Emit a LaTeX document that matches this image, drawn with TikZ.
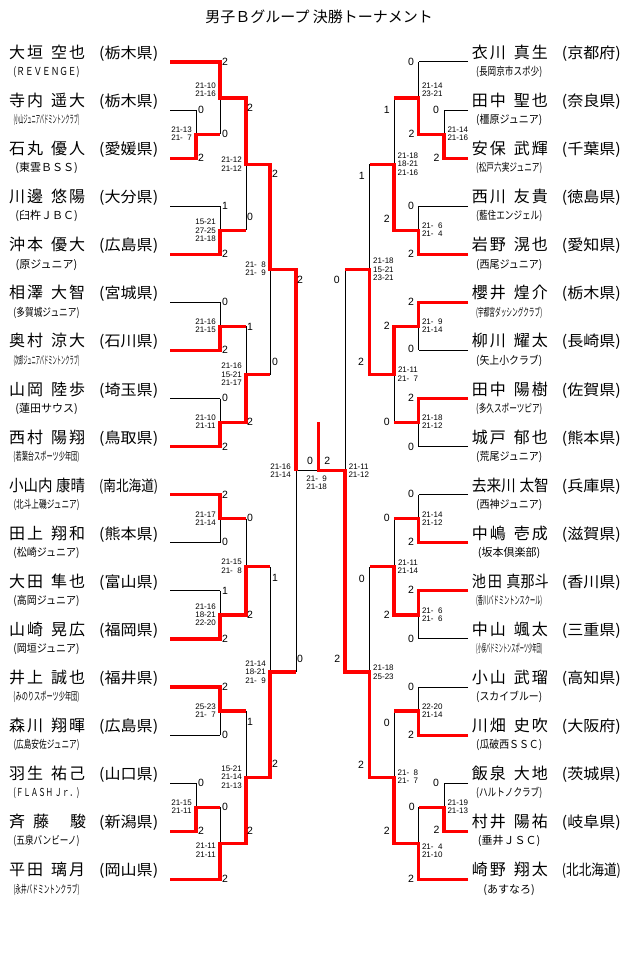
\documentclass[tikz,border=0pt]{standalone}
\usepackage{fontspec}
\usepackage{graphicx}
\newfontfamily\jp{Noto Sans CJK JP}
\newfontfamily\numfont{Liberation Sans}
\newsavebox\clubbox
\newcommand\clubfit[1]{\sbox\clubbox{#1}\ifdim\wd\clubbox>66pt\relax\resizebox{66pt}{\height}{\usebox\clubbox}\else\usebox\clubbox\fi}
\newcommand\preffit[1]{\resizebox{59pt}{\height}{(#1)}}
\newcommand\twoch[2]{#1\hspace{2pt}#2}
\newcommand\zs{\hphantom{0}}
\newcounter{dgc}
\newcounter{scc}
\def\YA{62}\def\YB{110.08}\def\YC{158.16}\def\YD{206.24}\def\YE{254.32}\def\YF{302.40}
\def\YG{350.48}\def\YH{398.56}\def\YI{446.64}\def\YJ{494.72}\def\YK{542.80}\def\YL{590.88}
\def\YM{638.96}\def\YN{687.04}\def\YO{735.12}\def\YP{783.20}\def\YQ{831.28}\def\YR{879.36}
\def\MA{134.12}\def\MB{98.06}\def\MC{230.28}\def\MD{164.17}\def\ME{326.44}\def\MF{422.60}
\def\MG{374.52}\def\MH{269.345}\def\MI{518.76}\def\MJ{614.92}\def\MK{566.84}\def\ML{711.08}
\def\MM{807.24}\def\MN{843.30}\def\MO{777.19}\def\MP{672.015}\def\MS{470.68}
\def\XLa{170}\def\XLb{196}\def\XLc{220}\def\XLd{246}\def\XLe{270}\def\XLf{296}
\def\XRa{468}\def\XRb{444}\def\XRc{418.5}\def\XRd{394}\def\XRe{369.5}\def\XRf{345}
\def\XC{318.5}
\newcommand\blackside[6]{%
\draw[bk]
 (#1,\YA)--(#3,\YA)
 (#1,\YB)--(#2,\YB) (#1,\YC)--(#2,\YC)
 (#1,\YD)--(#3,\YD) (#1,\YE)--(#3,\YE) (#1,\YF)--(#3,\YF) (#1,\YG)--(#3,\YG)
 (#1,\YH)--(#3,\YH) (#1,\YI)--(#3,\YI) (#1,\YJ)--(#3,\YJ) (#1,\YK)--(#3,\YK)
 (#1,\YL)--(#3,\YL) (#1,\YM)--(#3,\YM) (#1,\YN)--(#3,\YN) (#1,\YO)--(#3,\YO)
 (#1,\YP)--(#2,\YP) (#1,\YQ)--(#2,\YQ) (#1,\YR)--(#3,\YR)
 (#2,\YB)--(#2,\YC) (#2,\YP)--(#2,\YQ)
 (#2,\MA)--(#3,\MA) (#2,\MM)--(#3,\MM)
 (#3,\YA)--(#3,\MA) (#3,\YD)--(#3,\YE) (#3,\YF)--(#3,\YG) (#3,\YH)--(#3,\YI)
 (#3,\YJ)--(#3,\YK) (#3,\YL)--(#3,\YM) (#3,\YN)--(#3,\YO) (#3,\MM)--(#3,\YR)
 (#3,\MB)--(#4,\MB) (#3,\MC)--(#4,\MC) (#3,\ME)--(#4,\ME) (#3,\MF)--(#4,\MF)
 (#3,\MI)--(#4,\MI) (#3,\MJ)--(#4,\MJ) (#3,\ML)--(#4,\ML) (#3,\MN)--(#4,\MN)
 (#4,\MB)--(#4,\MC) (#4,\ME)--(#4,\MF) (#4,\MI)--(#4,\MJ) (#4,\ML)--(#4,\MN)
 (#4,\MD)--(#5,\MD) (#4,\MG)--(#5,\MG) (#4,\MK)--(#5,\MK) (#4,\MO)--(#5,\MO)
 (#5,\MD)--(#5,\MG) (#5,\MK)--(#5,\MO)
 (#5,\MH)--(#6,\MH) (#5,\MP)--(#6,\MP)
 (#6,\MH)--(#6,\MP);}
\newcommand\player[7]{%
 \node[nm] (#1s) at (#2,#3-3.5) {#4};
 \node[nm] (#1g) at (#2+42,#3-3.5) {#5};
 \node[pf] (#1p) at (#2+90,#3-3.5) {\preffit{#6}};
 \node[cl] (#1c) at (#2+37.5,#3+13.7) {\clubfit{#7}};}
\newcommand\dg[3]{\stepcounter{dgc}\node[dgt] (dg\the\value{dgc}) at (#1,#2+3.8) {#3};}
\newcommand\sct[4]{\stepcounter{scc}\node[sm,anchor=#1] (sc\the\value{scc}) at (#2,#3) {#4};}
\begin{document}
\begin{tikzpicture}[x=1pt,y=-1pt,
 bk/.style={draw=black,line width=1pt},
 rd/.style={draw=red,line width=3.2pt,line join=miter,line cap=butt},
 nm/.style={anchor=base west,inner sep=0pt,font=\jp\fontsize{16}{18}\selectfont},
 pf/.style={anchor=base west,inner sep=0pt,font=\jp\fontsize{15}{18}\selectfont},
 cl/.style={anchor=base,inner sep=0pt,font=\jp\fontsize{11}{13}\selectfont},
 dgt/.style={anchor=base,inner sep=0pt,font=\numfont\fontsize{10.5}{12}\selectfont},
 sm/.style={inner sep=0pt,align=center,font=\numfont\fontsize{8}{8.3}\selectfont},
 ttl/.style={anchor=base,inner sep=0pt,font=\jp\fontsize{15}{18}\selectfont}]
\useasboundingbox (0,0) rectangle (640,957);
\fill[white] (0,0) rectangle (640,957);
\node[ttl] (title) at (319.2,22.4) {男子Ｂグループ 決勝トーナメント};
% black structure
\blackside{\XLa}{\XLb}{\XLc}{\XLd}{\XLe}{\XLf}
\blackside{\XRa}{\XRb}{\XRc}{\XRd}{\XRe}{\XRf}
\draw[bk] (\XLf,\MS)--(\XRf,\MS);
% red winners left
\draw[rd] (\XLa,\YA)--(\XLc,\YA)--(\XLc,\MB)--(\XLd,\MB)--(\XLd,\MD)--(\XLe,\MD)--(\XLe,\MH)--(\XLf,\MH)--(\XLf,\MS);
\draw[rd] (\XLa,\YC)--(\XLb,\YC)--(\XLb,\MA)--(\XLc,\MA);
\draw[rd] (\XLa,\YE)--(\XLc,\YE)--(\XLc,\MC)--(\XLd,\MC);
\draw[rd] (\XLa,\YG)--(\XLc,\YG)--(\XLc,\ME)--(\XLd,\ME);
\draw[rd] (\XLa,\YI)--(\XLc,\YI)--(\XLc,\MF)--(\XLd,\MF)--(\XLd,\MG)--(\XLe,\MG);
\draw[rd] (\XLa,\YJ)--(\XLc,\YJ)--(\XLc,\MI)--(\XLd,\MI);
\draw[rd] (\XLa,\YM)--(\XLc,\YM)--(\XLc,\MJ)--(\XLd,\MJ)--(\XLd,\MK)--(\XLe,\MK);
\draw[rd] (\XLa,\YN)--(\XLc,\YN)--(\XLc,\ML)--(\XLd,\ML);
\draw[rd] (\XLa,\YQ)--(\XLb,\YQ)--(\XLb,\MM)--(\XLc,\MM);
\draw[rd] (\XLa,\YR)--(\XLc,\YR)--(\XLc,\MN)--(\XLd,\MN)--(\XLd,\MO)--(\XLe,\MO)--(\XLe,\MP)--(\XLf,\MP);
% red winners right
\draw[rd] (\XRa,\YC)--(\XRb,\YC)--(\XRb,\MA)--(\XRc,\MA)--(\XRc,\MB)--(\XRd,\MB);
\draw[rd] (\XRa,\YE)--(\XRc,\YE)--(\XRc,\MC)--(\XRd,\MC)--(\XRd,\MD)--(\XRe,\MD);
\draw[rd] (\XRa,\YF)--(\XRc,\YF)--(\XRc,\ME)--(\XRd,\ME)--(\XRd,\MG)--(\XRe,\MG)--(\XRe,\MH)--(\XRf,\MH);
\draw[rd] (\XRa,\YH)--(\XRc,\YH)--(\XRc,\MF)--(\XRd,\MF);
\draw[rd] (\XRa,\YK)--(\XRc,\YK)--(\XRc,\MI)--(\XRd,\MI);
\draw[rd] (\XRa,\YL)--(\XRc,\YL)--(\XRc,\MJ)--(\XRd,\MJ)--(\XRd,\MK)--(\XRe,\MK);
\draw[rd] (\XRa,\YO)--(\XRc,\YO)--(\XRc,\ML)--(\XRd,\ML);
\draw[rd] (\XRa,\YQ)--(\XRb,\YQ)--(\XRb,\MM)--(\XRc,\MM);
\draw[rd] (\XRa,\YR)--(\XRc,\YR)--(\XRc,\MN)--(\XRd,\MN)--(\XRd,\MO)--(\XRe,\MO)--(\XRe,\MP)--(\XRf,\MP)--(\XRf,\MS)--(\XC,\MS)--(\XC,421.7);
% players left
\player{L1}{9}{\YA}{\twoch 大垣}{\twoch 空也}{栃木県}{(ＲＥＶＥＮＧＥ)}
\player{L2}{9}{\YB}{\twoch 寺内}{\twoch 遥大}{栃木県}{(小山ジュニアバドミントンクラブ)}
\player{L3}{9}{\YC}{\twoch 石丸}{\twoch 優人}{愛媛県}{(東雲ＢＳＳ)}
\player{L4}{9}{\YD}{\twoch 川邊}{\twoch 悠陽}{大分県}{(臼杵ＪＢＣ)}
\player{L5}{9}{\YE}{\twoch 沖本}{\twoch 優大}{広島県}{(原ジュニア)}
\player{L6}{9}{\YF}{\twoch 相澤}{\twoch 大智}{宮城県}{(多賀城ジュニア)}
\player{L7}{9}{\YG}{\twoch 奥村}{\twoch 涼大}{石川県}{(次郎ジュニアバドミントンクラブ)}
\player{L8}{9}{\YH}{\twoch 山岡}{\twoch 陸歩}{埼玉県}{(蓮田サウス)}
\player{L9}{9}{\YI}{\twoch 西村}{\twoch 陽翔}{鳥取県}{(若葉台スポーツ少年団)}
\player{L10}{9}{\YJ}{\resizebox{76pt}{\height}{小山内\hspace{4pt}康晴}}{}{南北海道}{(北斗上磯ジュニア)}
\player{L11}{9}{\YK}{\twoch 田上}{\twoch 翔和}{熊本県}{(松崎ジュニア)}
\player{L12}{9}{\YL}{\twoch 大田}{\twoch 隼也}{富山県}{(高岡ジュニア)}
\player{L13}{9}{\YM}{\twoch 山崎}{\twoch 晃広}{福岡県}{(岡垣ジュニア)}
\player{L14}{9}{\YN}{\twoch 井上}{\twoch 誠也}{福井県}{(みのりスポーツ少年団)}
\player{L15}{9}{\YO}{\twoch 森川}{\twoch 翔暉}{広島県}{(広島安佐ジュニア)}
\player{L16}{9}{\YP}{\twoch 羽生}{\twoch 祐己}{山口県}{(ＦＬＡＳＨ Ｊｒ．)}
\player{L17}{9}{\YQ}{斉\hspace{8pt}藤\hspace{21pt}駿}{}{新潟県}{(五泉バンビーノ)}
\player{L18}{9}{\YR}{\twoch 平田}{\twoch 璃月}{岡山県}{(永井バドミントンクラブ)}
% players right
\player{R1}{471.7}{\YA}{\twoch 衣川}{\twoch 真生}{京都府}{(長岡京市スポ少)}
\player{R2}{471.7}{\YB}{\twoch 田中}{\twoch 聖也}{奈良県}{(橿原ジュニア)}
\player{R3}{471.7}{\YC}{\twoch 安保}{\twoch 武輝}{千葉県}{(松戸六実ジュニア)}
\player{R4}{471.7}{\YD}{\twoch 西川}{\twoch 友貴}{徳島県}{(藍住エンジェル)}
\player{R5}{471.7}{\YE}{\twoch 岩野}{\twoch 滉也}{愛知県}{(西尾ジュニア)}
\player{R6}{471.7}{\YF}{\twoch 櫻井}{\twoch 煌介}{栃木県}{(宇都宮ダッシングクラブ)}
\player{R7}{471.7}{\YG}{\twoch 柳川}{\twoch 耀太}{長崎県}{(矢上小クラブ)}
\player{R8}{471.7}{\YH}{\twoch 田中}{\twoch 陽樹}{佐賀県}{(多久スポーツピア)}
\player{R9}{471.7}{\YI}{\twoch 城戸}{\twoch 郁也}{熊本県}{(荒尾ジュニア)}
\player{R10}{471.7}{\YJ}{\resizebox{77pt}{\height}{去来川\hspace{4pt}太智}}{}{兵庫県}{(西神ジュニア)}
\player{R11}{471.7}{\YK}{\twoch 中嶋}{\twoch 壱成}{滋賀県}{(坂本倶楽部)}
\player{R12}{471.7}{\YL}{\resizebox{77pt}{\height}{池\hspace{2pt}田\hspace{5pt}真那斗}}{}{香川県}{(香川バドミントンスクール)}
\player{R13}{471.7}{\YM}{\twoch 中山}{\twoch 颯太}{三重県}{(小俣バドミントンスポーツ少年団)}
\player{R14}{471.7}{\YN}{\twoch 小山}{\twoch 武瑠}{高知県}{(スカイブルー)}
\player{R15}{471.7}{\YO}{\twoch 川畑}{\twoch 史吹}{大阪府}{(瓜破西ＳＳＣ)}
\player{R16}{471.7}{\YP}{\twoch 飯泉}{\twoch 大地}{茨城県}{(ハルトノクラブ)}
\player{R17}{471.7}{\YQ}{\twoch 村井}{\twoch 陽祐}{岐阜県}{(垂井ＪＳＣ)}
\player{R18}{471.7}{\YR}{\twoch 崎野}{\twoch 翔太}{北北海道}{(あすなろ)}
% game counts left
\dg{225}{62}{2}\dg{201}{110}{0}\dg{201}{158}{2}\dg{225}{134}{0}\dg{250}{108}{2}
\dg{225}{206}{1}\dg{225}{254}{2}\dg{250}{217}{0}\dg{275}{174}{2}
\dg{225}{302}{0}\dg{225}{350}{2}\dg{250}{326.4}{1}\dg{225}{398}{0}\dg{225}{446.6}{2}
\dg{250}{422}{2}\dg{275}{362}{0}\dg{300}{280}{2}
\dg{225}{494.7}{2}\dg{225}{542}{0}\dg{250}{518}{0}\dg{225}{591}{1}\dg{225}{639}{2}
\dg{250}{614.5}{2}\dg{275}{578}{1}\dg{225}{687}{2}\dg{225}{734.5}{0}\dg{250}{722}{1}
\dg{201}{782.5}{0}\dg{201}{830.5}{2}\dg{225}{806.5}{0}\dg{225}{878.5}{2}
\dg{250}{830.7}{2}\dg{275}{764}{2}\dg{300}{658.5}{0}
\dg{310}{461}{0}\dg{327.3}{461}{2}
% game counts right
\dg{411}{62}{0}\dg{436}{110}{0}\dg{436.5}{157.5}{2}\dg{411.5}{133.5}{2}\dg{386.7}{110}{1}
\dg{411}{205.5}{0}\dg{411}{253.5}{2}\dg{386.7}{218.3}{2}\dg{361.7}{176}{1}
\dg{411}{301.7}{2}\dg{411}{349}{0}\dg{386.7}{326}{2}\dg{411}{397.7}{2}\dg{411}{446.7}{0}
\dg{386.7}{422}{0}\dg{361}{361.7}{2}\dg{336.7}{280}{0}
\dg{411}{493.5}{0}\dg{411}{541.5}{2}\dg{386.7}{517.7}{0}\dg{411}{590}{2}\dg{411}{638.3}{0}
\dg{386.7}{614.7}{2}\dg{361.7}{578.3}{0}\dg{411}{686.7}{0}\dg{411}{734.3}{2}\dg{386.7}{722.7}{0}
\dg{436}{782.3}{0}\dg{436.5}{830}{2}\dg{411.7}{806.7}{0}\dg{411}{878.7}{2}
\dg{386.7}{830.7}{2}\dg{361}{765}{2}\dg{337.3}{659}{2}
% set scores left
\sct{east}{192}{133.5}{21-13\\21-\zs7}
\sct{east}{216}{89.8}{21-10\\21-16}
\sct{east}{242}{164.2}{21-12\\21-12}
\sct{east}{216}{230.3}{15-21\\27-25\\21-18}
\sct{east}{266}{268.5}{21-\zs8\\21-\zs9}
\sct{east}{216}{326}{21-16\\21-15}
\sct{east}{242}{374.5}{21-16\\15-21\\21-17}
\sct{east}{216}{421.8}{21-10\\21-11}
\sct{east}{291}{470.7}{21-16\\21-14}
\sct{east}{216}{518.5}{21-17\\21-14}
\sct{east}{242}{566.3}{21-15\\21-\zs8}
\sct{east}{216}{614.6}{21-16\\18-21\\22-20}
\sct{east}{266}{672}{21-14\\18-21\\21-\zs9}
\sct{east}{216}{710.8}{25-23\\21-\zs7}
\sct{east}{242}{777}{15-21\\21-14\\21-13}
\sct{east}{192}{806.5}{21-15\\21-11}
\sct{east}{216}{850.2}{21-11\\21-11}
% set scores right
\sct{west}{421.8}{89.5}{21-14\\23-21}
\sct{west}{447.3}{133.8}{21-14\\21-16}
\sct{west}{397.5}{164.2}{21-18\\18-21\\21-16}
\sct{west}{421.8}{230}{21-\zs6\\21-\zs4}
\sct{west}{373}{269.3}{21-18\\15-21\\23-21}
\sct{west}{421.8}{325.8}{21-\zs9\\21-14}
\sct{west}{397.5}{374.2}{21-11\\21-\zs7}
\sct{west}{421.8}{421.8}{21-18\\21-12}
\sct{west}{348.3}{470.8}{21-11\\21-12}
\sct{west}{421.8}{518.8}{21-14\\21-12}
\sct{west}{397.5}{566.5}{21-11\\21-14}
\sct{west}{421.8}{614.8}{21-\zs6\\21-\zs6}
\sct{west}{373}{672.2}{21-18\\25-23}
\sct{west}{421.8}{710.8}{22-20\\21-14}
\sct{west}{397.5}{776.7}{21-\zs8\\21-\zs7}
\sct{west}{447.3}{806.5}{21-19\\21-13}
\sct{west}{421.8}{850.7}{21-\zs4\\21-10}
\sct{center}{316.7}{482.8}{21-\zs9\\21-18}
\end{tikzpicture}
\end{document}
